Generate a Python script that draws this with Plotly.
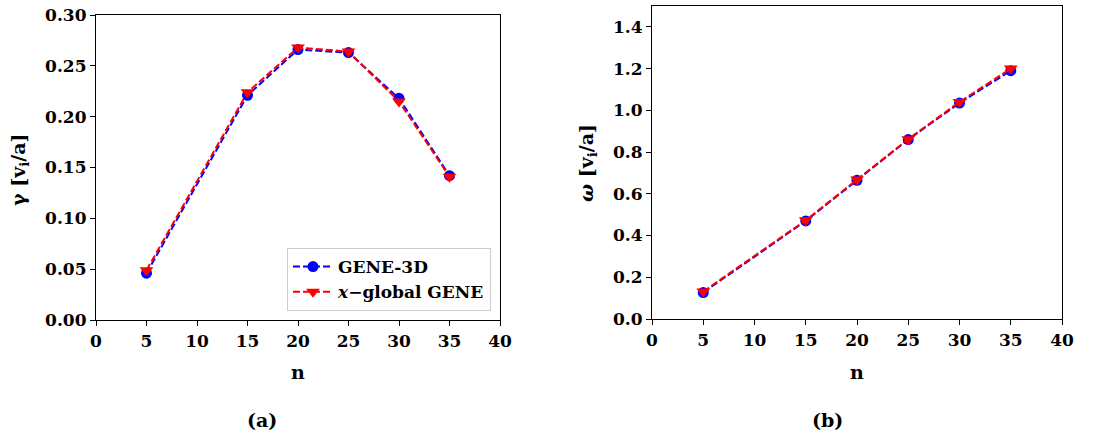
import plotly.graph_objects as go

n_vals = [5, 15, 20, 25, 30, 35]
gamma_gene3d = [0.046, 0.221, 0.266, 0.263, 0.218, 0.142]
gamma_xglobal = [0.049, 0.224, 0.268, 0.264, 0.215, 0.141]
omega_gene3d = [0.127, 0.470, 0.665, 0.860, 1.035, 1.190]
omega_xglobal = [0.132, 0.473, 0.668, 0.862, 1.040, 1.200]

x_ticks = [0, 5, 10, 15, 20, 25, 30, 35, 40]
gamma_ticks = [0.00, 0.05, 0.10, 0.15, 0.20, 0.25, 0.30]
omega_ticks = [0.0, 0.2, 0.4, 0.6, 0.8, 1.0, 1.2, 1.4]

FONT = "DejaVu Serif"
W, H = 1104, 437
BLUE = "#0000ff"
RED = "#ff0000"


def px(x):
    return x / W


def py(y):
    return 1 - y / H


fig = go.Figure()


def add_pair(xa, ya, blue_y, red_y, show):
    fig.add_trace(go.Scatter(
        x=n_vals, y=blue_y, xaxis=xa, yaxis=ya, mode="lines+markers",
        name="GENE-3D", showlegend=show,
        line=dict(color=BLUE, width=2, dash="7px,3px"),
        marker=dict(symbol="circle", size=11, color=BLUE)))
    fig.add_trace(go.Scatter(
        x=n_vals, y=red_y, xaxis=xa, yaxis=ya, mode="lines+markers",
        name="<i>x</i>\u2212global GENE", showlegend=show,
        line=dict(color=RED, width=2, dash="7px,3px"),
        marker=dict(symbol="triangle-down", size=12, color=RED)))


add_pair("x", "y", gamma_gene3d, gamma_xglobal, True)
add_pair("x2", "y2", omega_gene3d, omega_xglobal, False)

tickfont = dict(family=FONT, size=17, color="black", weight="bold")
axis_common = dict(showline=True, linecolor="black", linewidth=1.2, mirror=True,
                   ticks="outside", ticklen=5, tickwidth=1.2, tickcolor="black",
                   showgrid=False, zeroline=False, tickfont=tickfont,
                   automargin=False)

fig.update_layout(
    template="none",
    width=W, height=H,
    margin=dict(l=0, r=0, t=0, b=0, pad=0),
    paper_bgcolor="white", plot_bgcolor="white",
    xaxis=dict(domain=[px(96), px(500)], range=[0, 40], tickvals=x_ticks,
               anchor="y", **axis_common),
    yaxis=dict(domain=[py(320), py(15)], range=[0, 0.30], tickvals=gamma_ticks,
               tickformat=".2f", anchor="x", **axis_common),
    xaxis2=dict(domain=[px(652), px(1062)], range=[0, 40], tickvals=x_ticks,
                anchor="y2", **axis_common),
    yaxis2=dict(domain=[py(319), py(6)], range=[0, 1.5], tickvals=omega_ticks,
                tickformat=".1f", anchor="x2", **axis_common),
    legend=dict(x=px(491), y=py(311), xanchor="right", yanchor="bottom",
                bgcolor="white", bordercolor="#cccccc", borderwidth=1,
                font=dict(family=FONT, size=17, color="black", weight="bold"),
                itemwidth=40, tracegroupgap=2),
)

lab = dict(family=FONT, size=19, color="black", weight="bold")
annots = [
    dict(text="n", x=px(298), y=py(372)),
    dict(text="n", x=px(857), y=py(372)),
    dict(text="(a)", x=px(262), y=py(420)),
    dict(text="(b)", x=px(827), y=py(420)),
    dict(text="\u03b3 [v<sub>i</sub>/a]", x=px(19), y=py(170), textangle=-90),
    dict(text="<i>\u03c9</i> [v<sub>i</sub>/a]", x=px(587), y=py(163), textangle=-90),
]
for a in annots:
    fig.add_annotation(xref="paper", yref="paper", showarrow=False,
                       xanchor="center", yanchor="middle", font=lab, **a)

fig.write_html(
    "out.html",
    config={"displayModeBar": False},
    post_script="document.documentElement.style.margin='0';"
                "document.body.style.margin='0';"
                "document.body.style.overflow='hidden';",
)
